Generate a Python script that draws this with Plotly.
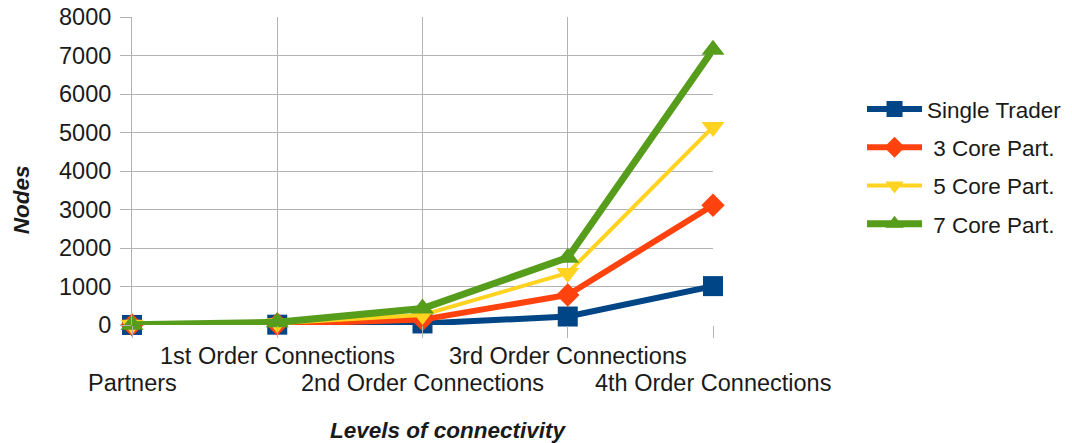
import plotly.graph_objects as go

categories = ["Partners", "1st Order Connections", "2nd Order Connections",
              "3rd Order Connections", "4th Order Connections"]
single_trader = [1, 8, 40, 220, 1010]
core3 = [3, 25, 140, 780, 3110]
core5 = [5, 45, 260, 1350, 5145]
core7 = [7, 70, 430, 1750, 7150]
y_ticks = [0, 1000, 2000, 3000, 4000, 5000, 6000, 7000, 8000]

FONT = "Liberation Sans, Arial, sans-serif"
TXT = "#1a1a1a"
GRID = "#b3b3b3"
FS = 23.5

series = [
    ("Single Trader", single_trader, "#004586", "square", 20, 6),
    (" 3 Core Part.", core3, "#ff420e", "diamond", 18, 6),
    (" 5 Core Part.", core5, "#ffd320", "triangle-down", 20, 4),
    (" 7 Core Part.", core7, "#579d1c", "triangle-up", 20, 7),
]

xs = list(range(len(categories)))
fig = go.Figure()
for i, (name, vals, color, sym, msize, lw) in enumerate(series):
    fig.add_trace(go.Scatter(
        x=xs, y=vals, name=name, mode="lines+markers",
        line=dict(color=color, width=lw),
        marker=dict(symbol=sym, size=msize, color=color, line=dict(width=0)),
        cliponaxis=False, legendgroup=f"g{i}",
    ))

# staggered category labels: odd ones on the first row, even ones on the second
annotations = []
for i, c in enumerate(categories):
    annotations.append(dict(
        text=c, x=xs[i], xref="x", y=0, yref="paper",
        yshift=-31 if i % 2 else -58, showarrow=False,
        xanchor="center", yanchor="middle",
        font=dict(size=FS, color=TXT)))

annotations += [
    dict(text="<b><i>Nodes</i></b>", xref="paper", yref="paper",
         x=-0.189, y=0.406, textangle=-90, showarrow=False,
         xanchor="center", yanchor="middle",
         font=dict(size=22.5, color=TXT)),
    dict(text="<b><i>Levels of connectivity</i></b>", xref="paper", yref="paper",
         x=0.5456, y=-0.341, showarrow=False,
         xanchor="center", yanchor="middle",
         font=dict(size=22.5, color=TXT)),
]

fig.update_layout(
    width=1072, height=443,
    margin=dict(l=132, r=359, t=17, b=118, autoexpand=False),
    paper_bgcolor="white", plot_bgcolor="white",
    font=dict(family=FONT, size=FS, color=TXT),
    showlegend=True,
    legend=dict(x=1.2565, xanchor="left", y=0.515, yanchor="middle",
                font=dict(size=22.5, color=TXT), tracegroupgap=6,
                traceorder="grouped", itemwidth=55),
    xaxis=dict(range=[0, 4], tickvals=xs, showticklabels=False,
               showgrid=True, gridcolor=GRID, gridwidth=1,
               ticks="outside", ticklen=12, tickcolor=GRID,
               showline=False, zeroline=False, automargin=False),
    yaxis=dict(range=[0, 8000], tickvals=y_ticks,
               showgrid=True, gridcolor=GRID, gridwidth=1,
               ticks="outside", ticklen=11, tickcolor=GRID,
               showline=True, linecolor=GRID, zeroline=False,
               ticklabelstandoff=4, automargin=False,
               ticklabeloverflow="allow",
               tickfont=dict(size=FS, color=TXT)),
    annotations=annotations,
)

fig.write_html("out.html", config={"displayModeBar": False},
               post_script="document.body.style.margin='0';")
